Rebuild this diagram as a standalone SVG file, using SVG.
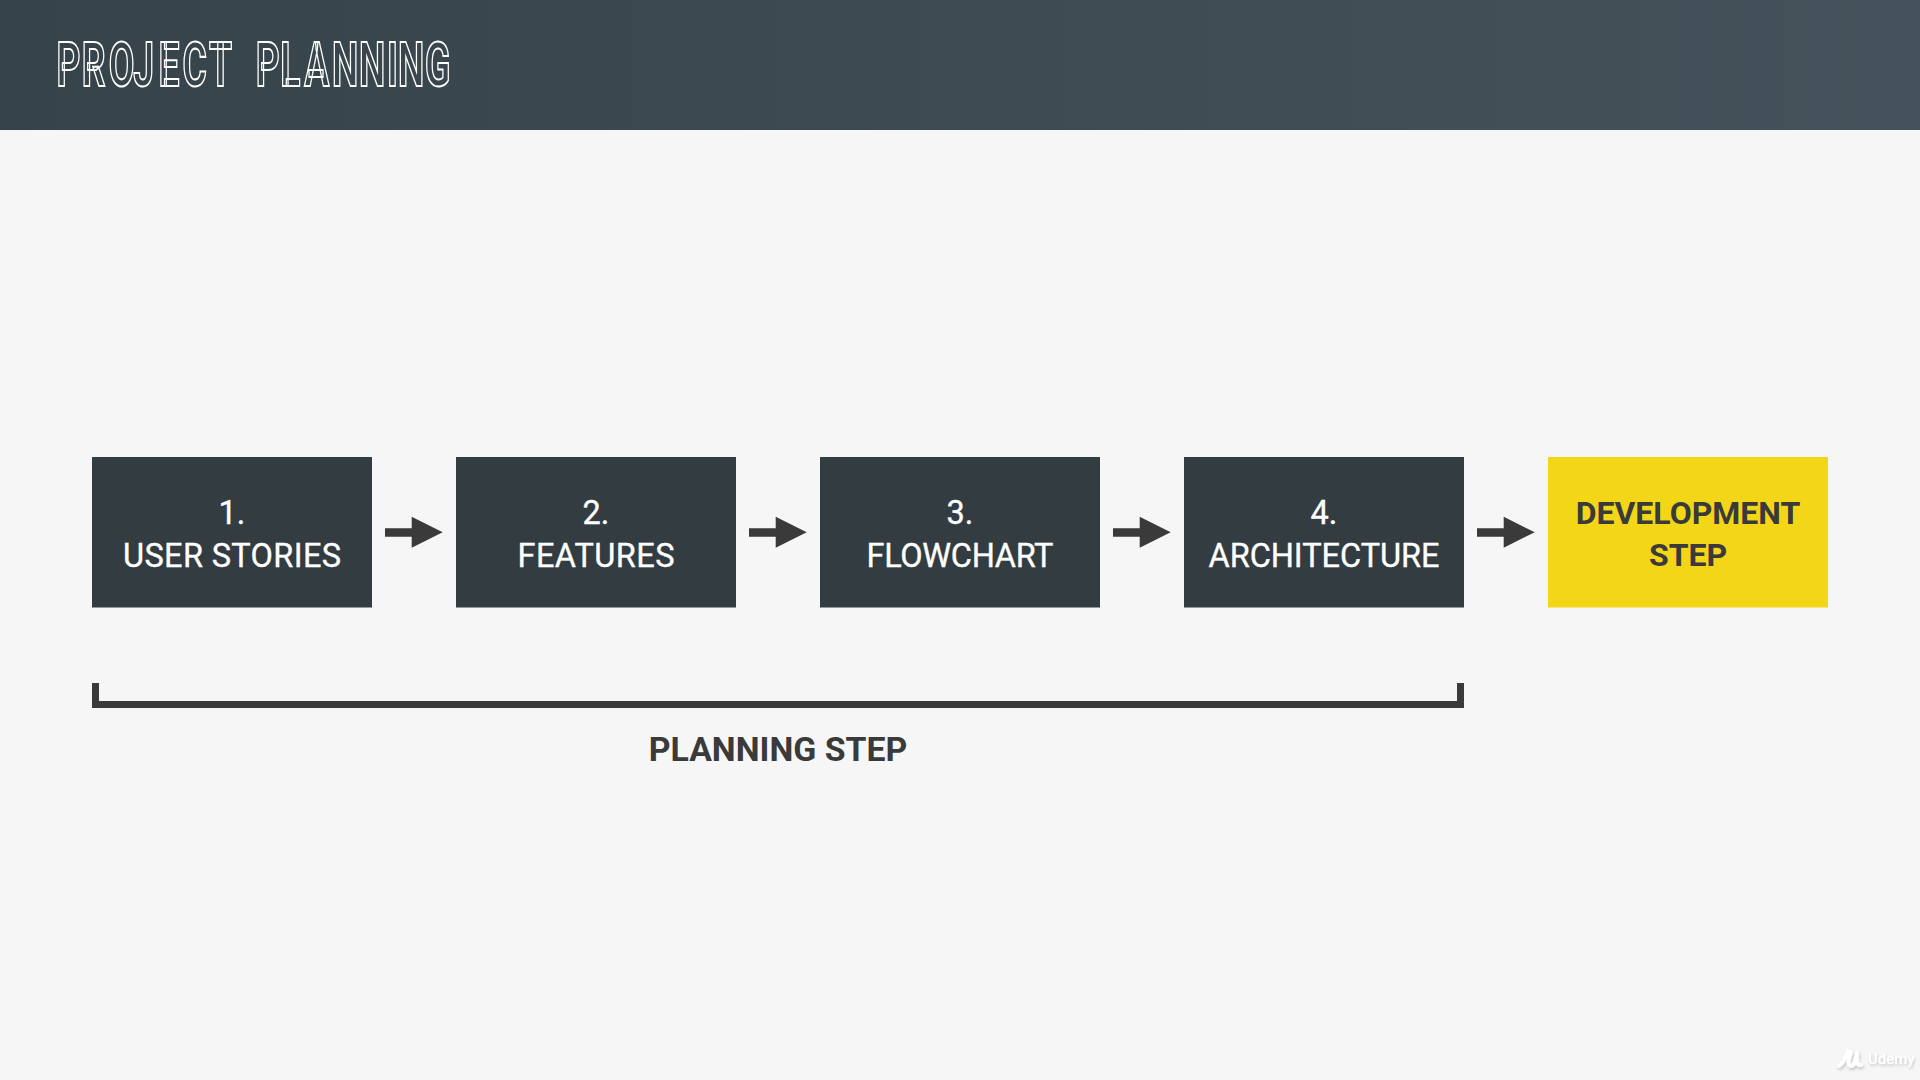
<svg xmlns="http://www.w3.org/2000/svg" width="1920" height="1080" viewBox="0 0 1920 1080">
<style>
.bx{fill:#323c41}
.t{font-family:Roboto,"Liberation Sans",sans-serif;font-size:32.5px;font-weight:400;text-anchor:middle;fill:#fff;stroke:#fff;stroke-width:0.35px}
.d{fill:#3a3a3a;stroke:none;font-size:32px;font-weight:700}
.a{fill:#3a3a3a}
</style>
<defs>
<linearGradient id="hd" x1="0" x2="1" y1="0" y2="0"><stop offset="0" stop-color="#36434a"/><stop offset="1" stop-color="#44525b"/></linearGradient>
<filter id="sh" x="-20%" y="-20%" width="150%" height="150%"><feDropShadow dx="1" dy="2" stdDeviation="1.5" flood-color="#000" flood-opacity="0.2"/></filter>
<polygon id="arr" points="385,528.3 411.7,528.3 411.7,516.7 442.7,532.3 411.7,547.7 411.7,536.7 385,536.7"/>
</defs>
<rect width="1920" height="1080" fill="#f6f6f6"/>
<g id="header">
<rect width="1920" height="130" fill="url(#hd)"/>
<text transform="translate(56.5 85.5) scale(0.6 1)" x="0 42 87 128 170 210 254 300 332 373 413 459 504 551 569 614" y="0" font-family="Roboto,'Liberation Sans',sans-serif" font-size="62" font-weight="700" fill="none" stroke="#fff" stroke-width="2">PROJECT PLANNING</text>
</g>
<g id="node1"><rect class="bx" x="92" y="457" width="280" height="150.5"/><text class="t" x="232" y="523.5">1.</text><text class="t" x="232" y="566.5" textLength="218">USER STORIES</text></g>
<g id="node2"><rect class="bx" x="456" y="457" width="280" height="150.5"/><text class="t" x="596" y="523.5">2.</text><text class="t" x="596" y="566.5" textLength="157">FEATURES</text></g>
<g id="node3"><rect class="bx" x="820" y="457" width="280" height="150.5"/><text class="t" x="960" y="523.5">3.</text><text class="t" x="960" y="566.5" textLength="187">FLOWCHART</text></g>
<g id="node4"><rect class="bx" x="1184" y="457" width="280" height="150.5"/><text class="t" x="1324" y="523.5">4.</text><text class="t" x="1324" y="566.5" textLength="231">ARCHITECTURE</text></g>
<g id="node5"><rect x="1548" y="457" width="280" height="150.5" fill="#f3d617"/><text class="t d" x="1688" y="523.5">DEVELOPMENT</text><text class="t d" x="1688" y="566">STEP</text></g>
<g id="connectors">
<use href="#arr" class="a"/>
<use href="#arr" class="a" x="364"/>
<use href="#arr" class="a" x="728"/>
<use href="#arr" class="a" x="1092"/>
</g>
<g id="planning">
<path class="a" d="M92 683h7v18h1358v-18h7v25H92z"/>
<text class="t d" x="778" y="761" style="font-size:33.8px">PLANNING STEP</text>
</g>
<g id="watermark" filter="url(#sh)">
<path d="M1839 1066c4-3 7-9 9-15M1851 1052c-2 5-4 14 0 14 4 0 5-8 6-13 0 5-1 13 4 12" fill="none" stroke="#fff" stroke-width="4" stroke-linecap="round" stroke-linejoin="round"/>
<text x="1868" y="1064" font-family="Roboto,'Liberation Sans',sans-serif" font-size="15" font-weight="500" fill="#fff">Udemy</text>
</g>
</svg>
